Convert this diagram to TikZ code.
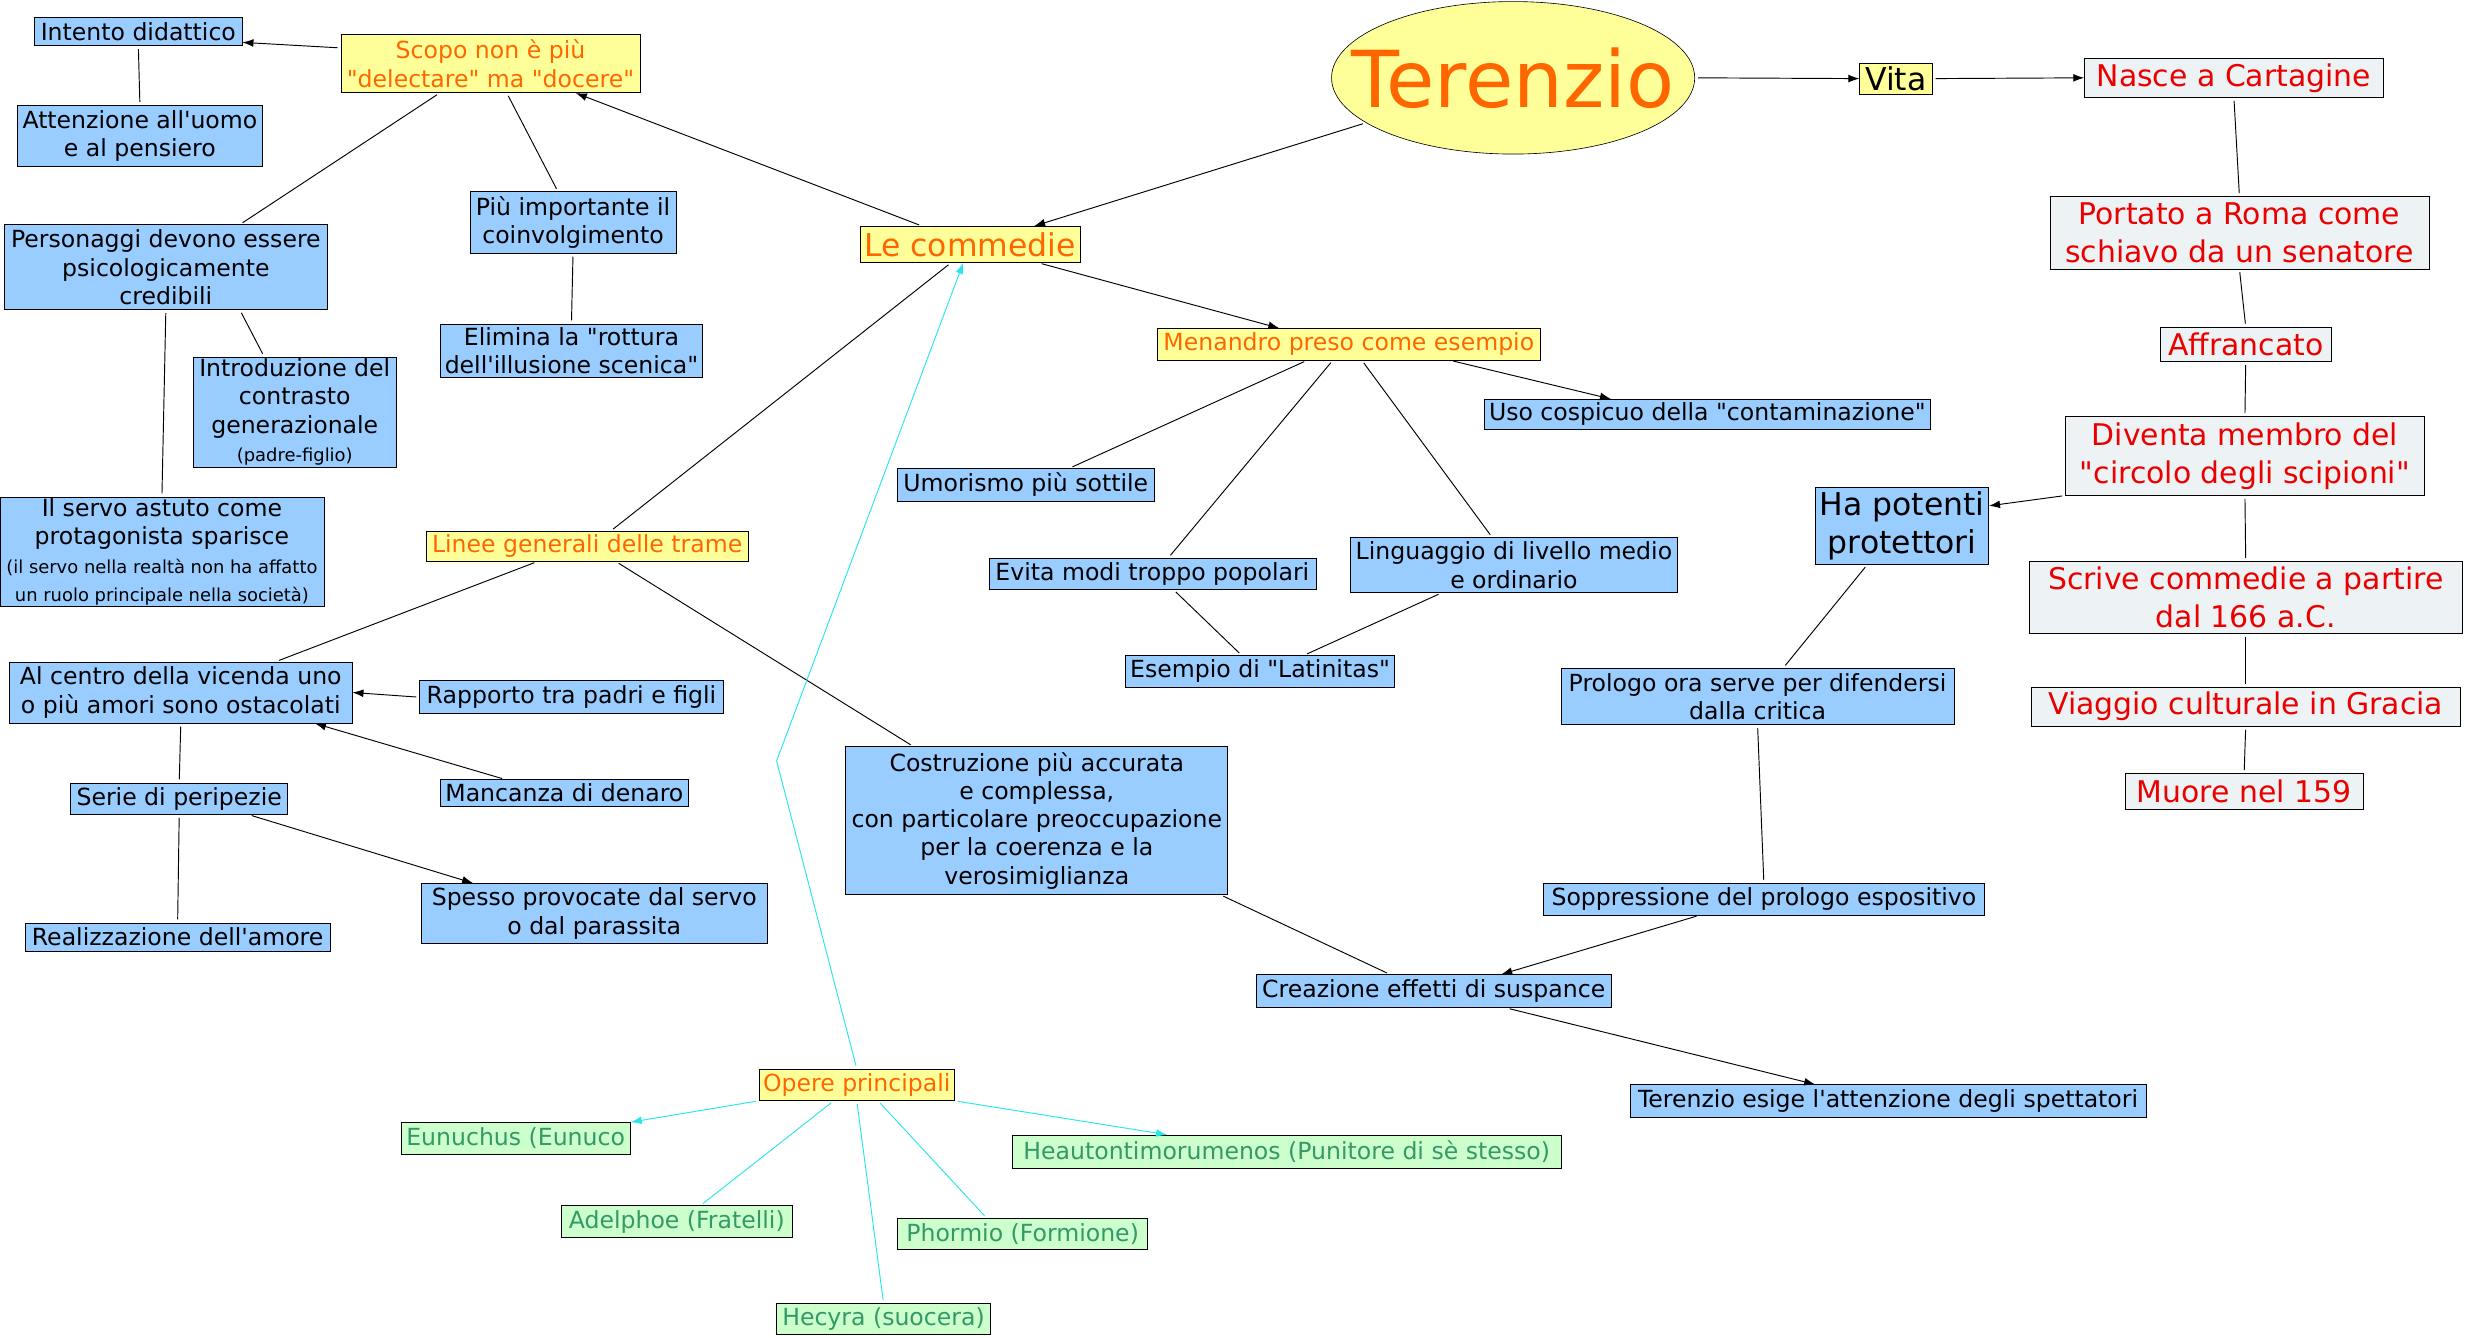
\documentclass[tikz,border=0pt]{standalone}
\usepackage{fontspec}
\newfontfamily\dejavu{DejaVu Sans}
\usetikzlibrary{arrows.meta,shapes.geometric}

\definecolor{bluFill}{RGB}{153,204,255}
\definecolor{gialloFill}{RGB}{255,255,153}
\definecolor{arancio}{RGB}{255,102,0}
\definecolor{grigioFill}{RGB}{237,242,244}
\definecolor{rosso}{RGB}{235,0,0}
\definecolor{verdeFill}{RGB}{204,255,204}
\definecolor{verdeTesto}{RGB}{51,153,102}
\definecolor{ciano}{RGB}{40,230,235}

\begin{document}
\begin{tikzpicture}[
  x=1pt,
  y=-1pt,
  >={Latex[length=7pt,width=5pt]},
  blu/.style={draw, fill=bluFill, inner sep=1pt, align=center, font=\dejavu\fontsize{15}{18}\selectfont},
  gialla/.style={draw, fill=gialloFill, text=arancio, inner sep=1pt, align=center, font=\dejavu\fontsize{15}{18}\selectfont},
  tappa/.style={draw, fill=grigioFill, text=rosso, inner sep=1pt, align=center, font=\dejavu\fontsize{19}{24}\selectfont},
  opera/.style={draw, fill=verdeFill, text=verdeTesto, inner sep=1pt, align=center, font=\dejavu\fontsize{15}{18}\selectfont},
  link/.style={line width=0.6pt, shorten <=2pt, shorten >=2pt},
  freccia/.style={line width=0.6pt, shorten <=2pt, ->},
  ciano/.style={line width=0.6pt, draw=ciano, shorten <=2pt}
]
  \fill[white] (0,0) rectangle (1568,851);
  \useasboundingbox (0,0) rectangle (1568,851);

  % centro e vita
  \node[draw, ellipse, fill=gialloFill, minimum width=231pt, minimum height=97pt, inner sep=0pt,
    label={[text=arancio, font=\dejavu\fontsize{50}{58}\selectfont]center:Terenzio}] (terenzio) at (962.5,49.5) {};
  \node[draw, fill=gialloFill, inner sep=1pt, minimum width=46pt, minimum height=20pt, font=\dejavu\fontsize{20}{24}\selectfont] (vita) at (1206,50) {Vita};

  \node[tappa, minimum width=190pt, minimum height=25pt] (nasce) at (1421,49.5) {Nasce a Cartagine};
  \node[tappa, minimum width=241pt, minimum height=46pt] (portato) at (1424.5,148) {Portato a Roma come\\schiavo da un senatore};
  \node[tappa, minimum width=109pt, minimum height=22pt] (affrancato) at (1428.5,219) {Affrancato};
  \node[tappa, minimum width=228pt, minimum height=50pt] (circolo) at (1428,290) {Diventa membro del\\"circolo degli scipioni"};
  \node[tappa, minimum width=275pt, minimum height=46pt] (scrive) at (1428.5,380) {Scrive commedie a partire\\dal 166 a.C.};
  \node[tappa, minimum width=273pt, minimum height=25pt] (viaggio) at (1428.5,449.5) {Viaggio culturale in Gracia};
  \node[tappa, minimum width=151pt, minimum height=23pt] (muore) at (1427.5,503.5) {Muore nel 159};

  \node[blu, minimum width=110pt, minimum height=49pt, font=\dejavu\fontsize{20}{24.5}\selectfont] (protettori) at (1210,334.5) {Ha potenti\\protettori};
  \node[blu, minimum width=250pt, minimum height=36pt] (prologo) at (1118,443) {Prologo ora serve per difendersi\\dalla critica};
  \node[blu, minimum width=280pt, minimum height=20pt] (soppressione) at (1122,572) {Soppressione del prologo espositivo};
  \node[blu, minimum width=226pt, minimum height=21pt] (suspance) at (912,630.5) {Creazione effetti di suspance};
  \node[blu, minimum width=328pt, minimum height=21pt] (spettatori) at (1201,700.5) {Terenzio esige l'attenzione degli spettatori};
  \node[blu, minimum width=243pt, minimum height=94pt] (costruzione) at (659.5,522) {Costruzione più accurata\\e complessa,\\con particolare preoccupazione\\per la coerenza e la\\verosimiglianza};

  % commedie e Menandro
  \node[gialla, minimum width=140pt, minimum height=23pt, font=\dejavu\fontsize{20}{24}\selectfont] (commedie) at (617,155.5) {Le commedie};
  \node[gialla, minimum width=244pt, minimum height=20pt] (menandro) at (858,219) {Menandro preso come esempio};
  \node[blu, minimum width=284pt, minimum height=19pt] (contaminazione) at (1086,263.5) {Uso cospicuo della "contaminazione"};
  \node[blu, minimum width=163pt, minimum height=21pt] (umorismo) at (652.5,308.5) {Umorismo più sottile};
  \node[blu, minimum width=208pt, minimum height=20pt] (popolari) at (733,365) {Evita modi troppo popolari};
  \node[blu, minimum width=208pt, minimum height=35pt] (linguaggio) at (963,359.5) {Linguaggio di livello medio\\e ordinario};
  \node[blu, minimum width=171pt, minimum height=20pt] (latinitas) at (801.5,427) {Esempio di "Latinitas"};

  % scopo
  \node[gialla, minimum width=190pt, minimum height=37pt] (scopo) at (312,40.5) {Scopo non è più\\"delectare" ma "docere"};
  \node[blu, minimum width=132pt, minimum height=18pt] (didattico) at (88,20) {Intento didattico};
  \node[blu, minimum width=156pt, minimum height=39pt] (uomo) at (89,86.5) {Attenzione all'uomo\\e al pensiero};
  \node[blu, minimum width=205pt, minimum height=54pt] (personaggi) at (105.5,170) {Personaggi devono essere\\psicologicamente\\credibili};
  \node[blu, minimum width=131pt, minimum height=39pt] (coinvolgimento) at (364.5,141.5) {Più importante il\\coinvolgimento};
  \node[blu, minimum width=167pt, minimum height=34pt] (rottura) at (363.5,223) {Elimina la "rottura\\dell'illusione scenica"};
  \node[blu, minimum width=129pt, minimum height=70pt] (contrasto) at (187.5,262) {Introduzione del\\contrasto\\generazionale\\\fontsize{11.4}{14}\selectfont (padre-figlio)};
  \node[blu, minimum width=206pt, minimum height=66pt] (servo) at (103,351) {Il servo astuto come\\protagonista sparisce\\\fontsize{11.4}{14}\selectfont (il servo nella realtà non ha affatto\\\fontsize{11.4}{14}\selectfont un ruolo principale nella società)};

  % trame
  \node[gialla, minimum width=205pt, minimum height=19pt] (trame) at (373.5,347.5) {Linee generali delle trame};
  \node[blu, minimum width=218pt, minimum height=39pt] (amori) at (115,440.5) {Al centro della vicenda uno\\o più amori sono ostacolati};
  \node[blu, minimum width=193pt, minimum height=21pt] (padri) at (363.5,443.5) {Rapporto tra padri e figli};
  \node[blu, minimum width=158pt, minimum height=17pt] (denaro) at (359,504.5) {Mancanza di denaro};
  \node[blu, minimum width=138pt, minimum height=20pt] (peripezie) at (114,508) {Serie di peripezie};
  \node[blu, minimum width=220pt, minimum height=38pt] (parassita) at (378,581) {Spesso provocate dal servo\\o dal parassita};
  \node[blu, minimum width=194pt, minimum height=18pt] (amore) at (113,596) {Realizzazione dell'amore};

  % opere
  \node[gialla, minimum width=124pt, minimum height=20pt] (opere) at (545,690) {Opere principali};
  \node[opera, minimum width=146pt, minimum height=20pt] (eunuchus) at (328,724) {Eunuchus (Eunuco};
  \node[opera, minimum width=349pt, minimum height=21pt] (heauton) at (818.5,732.5) {Heautontimorumenos (Punitore di sè stesso)};
  \node[opera, minimum width=147pt, minimum height=20pt] (adelphoe) at (430.5,777) {Adelphoe (Fratelli)};
  \node[opera, minimum width=159pt, minimum height=20pt] (phormio) at (650.5,785) {Phormio (Formione)};
  \node[opera, minimum width=136pt, minimum height=20pt] (hecyra) at (562,839) {Hecyra (suocera)};
  \coordinate (piega) at (494,484);

  % connettori vita
  \draw[freccia] (terenzio.east) -- (vita.west);
  \draw[freccia] (vita.east) -- (nasce.west);
  \draw[link] (nasce.south) -- (portato.north);
  \draw[link] (portato.south) -- (affrancato.north);
  \draw[link] (affrancato.south) -- (circolo.north);
  \draw[freccia] (circolo.south west) -- (protettori.13);
  \draw[link] (circolo.south) -- (scrive.north);
  \draw[link] (scrive.south) -- (viaggio.north);
  \draw[link] (viaggio.south) -- (muore.north);
  \draw[link] (protettori.228) -- (prologo.48);
  \draw[link] (prologo.south) -- (soppressione.north);
  \draw[freccia] (soppressione.194) -- (suspance.14);
  \draw[link] (costruzione.-22.5) -- (suspance.159);
  \draw[freccia] (suspance.-13) -- (spettatori.167);

  % connettori commedie
  \draw[freccia] (terenzio.197) -- (commedie.16);
  \draw[freccia] (commedie.159) -- (scopo.-19);
  \draw[freccia] (commedie.-15.5) -- (menandro.167.5);
  \draw[link] (commedie.224) -- (trame.33);
  \draw[freccia] (menandro.-9.6) -- (contaminazione.171);
  \draw[link] (menandro.201) -- (umorismo.21);
  \draw[link] (menandro.225) -- (popolari.45);
  \draw[link] (menandro.-51) -- (linguaggio.128.7);
  \draw[link] (popolari.-37.6) -- (latinitas.139);
  \draw[link] (linguaggio.201) -- (latinitas.20.7);

  % connettori scopo
  \draw[freccia] (scopo.174.3) -- (didattico.-6);
  \draw[link] (scopo.210.8) -- (personaggi.30.7);
  \draw[link] (scopo.-61.6) -- (coinvolgimento.116);
  \draw[link] (coinvolgimento.south) -- (rottura.north);
  \draw[link] (didattico.south) -- (uomo.north);
  \draw[link] (personaggi.-30.7) -- (contrasto.119);
  \draw[link] (personaggi.south) -- (servo.north);

  % connettori trame
  \draw[link] (trame.197.3) -- (amori.18.9);
  \draw[link] (trame.-28.5) -- (costruzione.149.4);
  \draw[freccia] (padri.west) -- (amori.east);
  \draw[freccia] (denaro.167.4) -- (amori.-13.7);
  \draw[link] (amori.south) -- (peripezie.north);
  \draw[freccia] (peripezie.-13.4) -- (parassita.166.3);
  \draw[link] (peripezie.south) -- (amore.north);

  % connettori opere
  \draw[ciano, ->] (opere.north) -- (piega) -- (commedie.250);
  \draw[ciano, ->] (opere.south west) -- (eunuchus.north east);
  \draw[ciano, ->] (opere.south east) -- (heauton.172.3);
  \draw[ciano, shorten >=2pt] (opere.215.5) -- (adelphoe.34.6);
  \draw[ciano, shorten >=2pt] (opere.south) -- (hecyra.north);
  \draw[ciano, shorten >=2pt] (opere.-37.6) -- (phormio.156);
\end{tikzpicture}
\end{document}
